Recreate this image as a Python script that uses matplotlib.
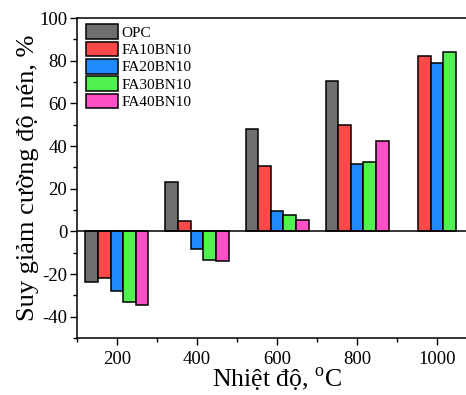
import matplotlib
matplotlib.use("Agg")
import matplotlib.pyplot as plt
import numpy as np
from matplotlib.ticker import MultipleLocator

plt.rcParams['font.family'] = ['Liberation Serif', 'DejaVu Serif']
plt.rcParams['mathtext.fontset'] = 'custom'
plt.rcParams['mathtext.rm'] = 'Liberation Serif'
plt.rcParams['axes.unicode_minus'] = False

temps = [200, 400, 600, 800, 1000]
series = ["OPC", "FA10BN10", "FA20BN10", "FA30BN10", "FA40BN10"]
opc = [-23.8, 23.1, 48.2, 70.6, np.nan]
fa10 = [-22.0, 4.7, 30.7, 49.9, 82.3]
fa20 = [-27.9, -8.3, 9.7, 31.5, 79.0]
fa30 = [-32.9, -13.6, 7.7, 32.7, 83.9]
fa40 = [-34.4, -14.1, 5.5, 42.4, np.nan]
values = [opc, fa10, fa20, fa30, fa40]
colors = ['#6e6e6e', '#ff4848', '#1f8bff', '#4ff04f', '#ff50c8']

fig = plt.figure(figsize=(4.66, 3.95), dpi=100)
ax = fig.add_axes([0.165, 0.1443, 0.859, 0.81])

w = 31.5
x = np.array(temps, dtype=float)
for i, (name, vals, c) in enumerate(zip(series, values, colors)):
    ax.bar(x + (i - 2) * w, vals, width=w, color=c, edgecolor='black',
           linewidth=1.1, label=name, zorder=3)

ax.axhline(0, color='black', linewidth=1.1, zorder=4)
ax.set_xlim(100, 1100)
ax.set_ylim(-50, 100)
ax.set_xticks(temps)
ax.xaxis.set_minor_locator(MultipleLocator(100))
ax.set_yticks([-40, -20, 0, 20, 40, 60, 80, 100])
ax.yaxis.set_minor_locator(MultipleLocator(10))
ax.tick_params(axis='both', which='major', direction='out', length=5, width=1,
               labelsize=13.5, pad=2)
ax.tick_params(axis='both', which='minor', direction='out', length=3, width=1)
ax.tick_params(axis='x', pad=4)
for s in ax.spines.values():
    s.set_linewidth(1.1)

ax.set_xlabel('Nhiệt độ, $^{\\mathrm{o}}$C', fontsize=18.5, labelpad=-1)
ax.set_ylabel('Suy giảm cường độ nén, %', fontsize=19, labelpad=0)

ax.legend(loc='upper left', bbox_to_anchor=(0.012, 0.995), frameon=False,
          fontsize=11, handlelength=2.1, handleheight=1.1, labelspacing=0.12,
          handletextpad=0.2, borderaxespad=0.2, borderpad=0.1)

fig.savefig('out.png', dpi=100)
